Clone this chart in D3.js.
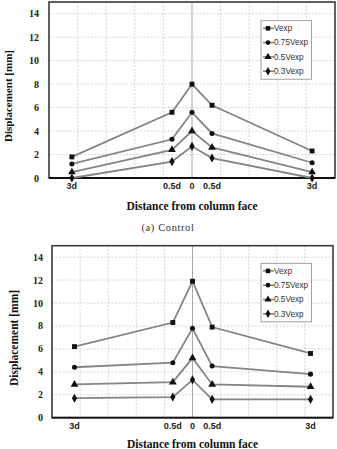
<!DOCTYPE html>
<html>
<head>
<meta charset="utf-8">
<script src="https://cdn.jsdelivr.net/npm/d3@7/dist/d3.min.js"></script>
<style>
  html, body { margin: 0; padding: 0; background: #fff; }
  svg { display: block; }
</style>
</head>
<body>
<div id="chart"></div>
<script>
// x positions in grid units (one dashed grid step = 1), d ~ 1.4 units
const xValues = [-4.2, -0.7, 0, 0.7, 4.2];
const xLabels = ['3d', '0.5d', '0', '0.5d', '3d'];
const yTicks = [0, 2, 4, 6, 8, 10, 12, 14];
const seriesNames = ['Vexp', '0.75Vexp', '0.5Vexp', '0.3Vexp'];

// (a) Control
const controlVexp = [1.8, 5.6, 8.0, 6.2, 2.3];
const control075 = [1.2, 3.3, 5.6, 3.8, 1.3];
const control050 = [0.5, 2.4, 4.0, 2.6, 0.5];
const control030 = [0.0, 1.4, 2.7, 1.7, 0.0];

// second specimen
const specVexp = [6.2, 8.3, 11.9, 7.9, 5.6];
const spec075 = [4.4, 4.8, 7.8, 4.5, 3.8];
const spec050 = [2.9, 3.1, 5.2, 2.9, 2.7];
const spec030 = [1.7, 1.8, 3.3, 1.6, 1.6];

const symbols = [d3.symbolSquare, d3.symbolCircle, d3.symbolTriangle, d3.symbolDiamond];
const symSize = [24, 20, 26, 24];

const svg = d3.select('#chart').append('svg')
  .attr('width', 337).attr('height', 449);

const serif = '"Liberation Serif", "Times New Roman", serif';
const sans = '"Liberation Sans", Arial, sans-serif';

function drawChart(cfg) {
  const { left, right, top, bottom, series, yTitleX, yTitleY, yTitleSize, xTitleY, tickLabelY, yLabelX, legendX, legendY } = cfg;

  const x = d3.scaleLinear().domain([-5, 5]).range([left, right]);
  const y = d3.scaleLinear().domain([0, 15]).range([bottom, top]);

  const g = svg.append('g');

  // dashed grid
  g.append('g').selectAll('line.v')
    .data(d3.range(-4, 5).filter(v => v !== 0))
    .join('line')
    .attr('x1', d => x(d)).attr('x2', d => x(d))
    .attr('y1', top).attr('y2', bottom)
    .attr('stroke', '#cacaca').attr('stroke-width', 0.8)
    .attr('stroke-dasharray', '2,1.5');

  g.append('g').selectAll('line.h')
    .data(yTicks.filter(v => v > 0))
    .join('line')
    .attr('x1', left).attr('x2', right)
    .attr('y1', d => y(d)).attr('y2', d => y(d))
    .attr('stroke', '#cacaca').attr('stroke-width', 0.8)
    .attr('stroke-dasharray', '2,1.5');

  // solid vertical line at x = 0
  g.append('line')
    .attr('x1', x(0)).attr('x2', x(0))
    .attr('y1', top).attr('y2', bottom)
    .attr('stroke', '#a8a8a8').attr('stroke-width', 1);

  // frame
  g.append('rect')
    .attr('x', left).attr('y', top)
    .attr('width', right - left).attr('height', bottom - top)
    .attr('fill', 'none').attr('stroke', '#3a3a3a').attr('stroke-width', 1.6);
  g.append('line')
    .attr('x1', left).attr('x2', right)
    .attr('y1', bottom).attr('y2', bottom)
    .attr('stroke', '#111').attr('stroke-width', 1.8);

  // y tick labels
  g.append('g').selectAll('text')
    .data(yTicks)
    .join('text')
    .attr('x', yLabelX).attr('y', d => y(d))
    .attr('dy', '0.35em')
    .attr('text-anchor', 'end')
    .style('font', `bold 10px ${serif}`)
    .attr('fill', '#222')
    .text(d => d);

  // x tick labels
  g.append('g').selectAll('text')
    .data(xValues)
    .join('text')
    .attr('x', d => x(d)).attr('y', tickLabelY)
    .attr('dy', '0.35em')
    .attr('text-anchor', 'middle')
    .style('font', `bold 9px ${sans}`)
    .attr('fill', '#222')
    .text((d, i) => xLabels[i]);

  // lines and markers
  const line = d3.line().x((d, i) => x(xValues[i])).y(d => y(d));
  series.forEach((vals, si) => {
    g.append('path')
      .datum(vals)
      .attr('d', line)
      .attr('fill', 'none')
      .attr('stroke', '#858585')
      .attr('stroke-width', 1.8);
    g.append('g').selectAll('path')
      .data(vals)
      .join('path')
      .attr('transform', (d, i) => `translate(${x(xValues[i])},${y(d)})`)
      .attr('d', d3.symbol(symbols[si], symSize[si]))
      .attr('fill', '#111');
  });

  // legend
  const lg = g.append('g').attr('transform', `translate(${legendX},${legendY})`);
  lg.append('rect')
    .attr('x', 0).attr('y', 0).attr('width', 50.5).attr('height', 58.5)
    .attr('fill', '#fff').attr('stroke', '#8a8a8a').attr('stroke-width', 0.8);
  seriesNames.forEach((name, i) => {
    const cy = 7.6 + i * 14.3;
    lg.append('line')
      .attr('x1', 2).attr('x2', 13).attr('y1', cy).attr('y2', cy)
      .attr('stroke', '#858585').attr('stroke-width', 1.6);
    lg.append('path')
      .attr('transform', `translate(7,${cy})`)
      .attr('d', d3.symbol(symbols[i], symSize[i] * 0.85))
      .attr('fill', '#111');
    lg.append('text')
      .attr('x', 13).attr('y', cy).attr('dy', '0.35em')
      .style('font', `8.2px ${sans}`)
      .attr('fill', '#333')
      .text(name);
  });

  // axis titles
  svg.append('text')
    .attr('transform', `translate(${yTitleX},${yTitleY}) rotate(-90)`)
    .attr('text-anchor', 'middle').attr('dy', '0.35em')
    .style('font', `bold ${yTitleSize}px ${serif}`)
    .attr('fill', '#111')
    .text('Displacement [mm]');

  svg.append('text')
    .attr('x', (left + right) / 2).attr('y', xTitleY)
    .attr('text-anchor', 'middle').attr('dy', '0.35em')
    .style('font', `bold 11.5px ${serif}`)
    .attr('fill', '#111')
    .text('Distance from column face');
}

drawChart({
  left: 49, right: 335, top: 2, bottom: 178,
  series: [controlVexp, control075, control050, control030],
  yTitleX: 8.5, yTitleY: 96, yTitleSize: 11,
  xTitleY: 205.5, tickLabelY: 185.5, yLabelX: 39,
  legendX: 261, legendY: 20.7
});

svg.append('text')
  .attr('x', 168).attr('y', 227).attr('dy', '0.35em')
  .attr('text-anchor', 'middle')
  .style('font', `10.5px ${serif}`)
  .style('letter-spacing', '0.6px')
  .attr('fill', '#333')
  .text('(a)  Control');

drawChart({
  left: 52, right: 333, top: 245.7, bottom: 417.7,
  series: [specVexp, spec075, spec050, spec030],
  yTitleX: 14, yTitleY: 338, yTitleSize: 11.5,
  xTitleY: 444, tickLabelY: 425.7, yLabelX: 43,
  legendX: 261, legendY: 263.3
});
</script>
</body>
</html>
